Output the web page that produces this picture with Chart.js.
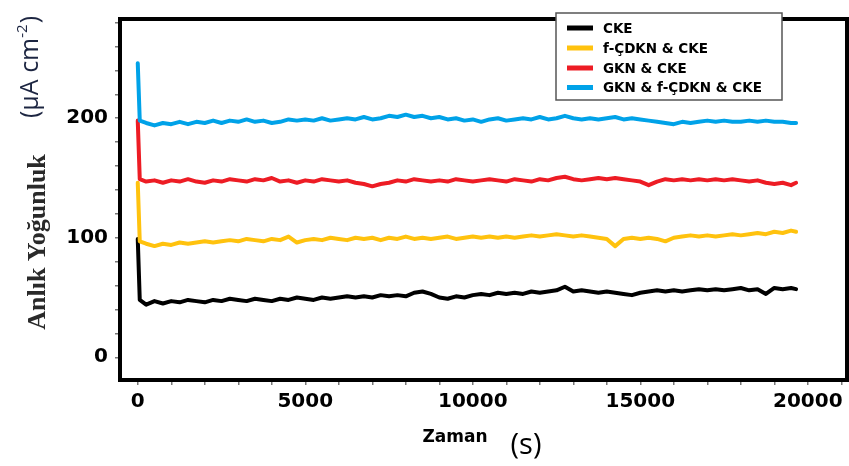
<!DOCTYPE html>
<html>
<head>
<meta charset="utf-8">
<script src="https://cdn.jsdelivr.net/npm/chart.js@4.4.0/dist/chart.umd.min.js"></script>
<style>
  body { margin: 0; background: #fff; }
  canvas { display: block; }
</style>
</head>
<body>
<canvas id="currentChart" width="849" height="466"></canvas>
<script>
// zaman (s)
const times = [0, 60, 250, 500, 750, 1000, 1250, 1500, 1750, 2000, 2250, 2500, 2750, 3000, 3250, 3500, 3750, 4000,
    4250, 4500, 4750, 5000, 5250, 5500, 5750, 6000, 6250, 6500, 6750, 7000, 7250, 7500, 7750, 8000, 8250, 8500,
    8750, 9000, 9250, 9500, 9750, 10000, 10250, 10500, 10750, 11000, 11250, 11500, 11750, 12000, 12250, 12500,
    12750, 13000, 13250, 13500, 13750, 14000, 14250, 14500, 14750, 15000, 15250, 15500, 15750, 16000, 16250,
    16500, 16750, 17000, 17250, 17500, 17750, 18000, 18250, 18500, 18750, 19000, 19250, 19500, 19650];

const seriesLabels = ['CKE', 'f-ÇDKN & CKE', 'GKN & CKE', 'GKN & f-ÇDKN & CKE'];

const ckeValues = [99, 48, 44, 47, 45, 47, 46, 48, 47, 46, 48, 47, 49, 48, 47, 49, 48, 47,
    49, 48, 50, 49, 48, 50, 49, 50, 51, 50, 51, 50, 52, 51, 52, 51, 54, 55,
    53, 50, 49, 51, 50, 52, 53, 52, 54, 53, 54, 53, 55, 54, 55, 56,
    59, 55, 56, 55, 54, 55, 54, 53, 52, 54, 55, 56, 55, 56, 55,
    56, 57, 56, 57, 56, 57, 58, 56, 57, 53, 58, 57, 58, 57];

const fcdknValues = [146, 97, 95, 93, 95, 94, 96, 95, 96, 97, 96, 97, 98, 97, 99, 98, 97, 99,
    98, 101, 96, 98, 99, 98, 100, 99, 98, 100, 99, 100, 98, 100, 99, 101, 99, 100,
    99, 100, 101, 99, 100, 101, 100, 101, 100, 101, 100, 101, 102, 101, 102, 103,
    102, 101, 102, 101, 100, 99, 93, 99, 100, 99, 100, 99, 97, 100, 101,
    102, 101, 102, 101, 102, 103, 102, 103, 104, 103, 105, 104, 106, 105];

const gknValues = [198, 149, 147, 148, 146, 148, 147, 149, 147, 146, 148, 147, 149, 148, 147, 149, 148, 150,
    147, 148, 146, 148, 147, 149, 148, 147, 148, 146, 145, 143, 145, 146, 148, 147, 149, 148,
    147, 148, 147, 149, 148, 147, 148, 149, 148, 147, 149, 148, 147, 149, 148, 150,
    151, 149, 148, 149, 150, 149, 150, 149, 148, 147, 144, 147, 149, 148, 149,
    148, 149, 148, 149, 148, 149, 148, 147, 148, 146, 145, 146, 144, 146];

const gknFcdknValues = [246, 198, 196, 194, 196, 195, 197, 195, 197, 196, 198, 196, 198, 197, 199, 197, 198, 196,
    197, 199, 198, 199, 198, 200, 198, 199, 200, 199, 201, 199, 200, 202, 201, 203, 201, 202,
    200, 201, 199, 200, 198, 199, 197, 199, 200, 198, 199, 200, 199, 201, 199, 200,
    202, 200, 199, 200, 199, 200, 201, 199, 200, 199, 198, 197, 196, 195, 197,
    196, 197, 198, 197, 198, 197, 197, 198, 197, 198, 197, 197, 196, 196];

const seriesColors = ['#000000', '#FFC20E', '#ED1C24', '#00A2E8'];

// eksen tik etiketleri (kucuk tikler her 1000 s / 20 birim)
const xTickLabels = [0, 5000, 10000, 15000, 20000];
const yTickLabels = [0, 100, 200];

function tickValues(from, to, step) {
    const out = [];
    for (let v = from; v <= to; v += step) out.push({ value: v });
    return out;
}

function toPoints(values) {
    return values.map((v, i) => ({ x: times[i], y: v }));
}

function makeDataset(label, values, color, order) {
    return {
        label: label,
        data: toPoints(values),
        borderColor: color,
        backgroundColor: color,
        borderWidth: 4,
        pointRadius: 0,
        tension: 0,
        borderJoinStyle: 'round',
        borderCapStyle: 'round',
        order: order
    };
}

const tickFont = { family: '"DejaVu Sans"', size: 20, weight: 'bold' };

// cerceve, eksen basliklari ve lejant
const decorPlugin = {
    id: 'decor',
    afterDraw(chart) {
        const ctx = chart.ctx;
        const a = chart.chartArea;
        ctx.save();
        ctx.strokeStyle = '#000';
        ctx.lineWidth = 4;
        ctx.strokeRect(a.left, a.top, a.right - a.left, a.bottom - a.top);

        // y basligi
        ctx.save();
        ctx.translate(45, 242);
        ctx.rotate(-Math.PI / 2);
        ctx.textAlign = 'center';
        ctx.textBaseline = 'alphabetic';
        ctx.fillStyle = '#2a2a2a';
        ctx.font = 'bold 26px "Liberation Serif"';
        ctx.fillText('Anlık Yoğunluk', 0, 0);
        ctx.restore();

        ctx.save();
        ctx.translate(38, 118);
        ctx.rotate(-Math.PI / 2);
        ctx.textAlign = 'left';
        ctx.textBaseline = 'alphabetic';
        ctx.fillStyle = '#1c2541';
        ctx.font = '25px "Open Sans"';
        let x = 0;
        ctx.fillText('(μA cm', x, 0);
        x += ctx.measureText('(μA cm').width;
        ctx.font = '15px "Open Sans"';
        ctx.fillText('-2', x, -11);
        x += ctx.measureText('-2').width + 1;
        ctx.font = '25px "Open Sans"';
        ctx.fillText(')', x, 0);
        ctx.restore();

        // x basligi
        ctx.fillStyle = '#000';
        ctx.textAlign = 'center';
        ctx.textBaseline = 'middle';
        ctx.font = 'bold 17px "DejaVu Sans"';
        ctx.fillText('Zaman', 455, 438);
        ctx.font = '29px "Open Sans"';
        ctx.fillText('(s)', 526, 446);

        // lejant
        const lx = 556, ly = 13, lw = 226, lh = 87;
        ctx.fillStyle = '#fff';
        ctx.fillRect(lx, ly, lw, lh);
        ctx.strokeStyle = '#555';
        ctx.lineWidth = 1.5;
        ctx.strokeRect(lx, ly, lw, lh);
        const rows = [28, 48, 68, 87.5];
        ctx.textAlign = 'left';
        ctx.font = 'bold 13.5px "DejaVu Sans"';
        seriesLabels.forEach((label, i) => {
            ctx.fillStyle = seriesColors[i];
            ctx.fillRect(567, rows[i] - 2.5, 26, 5);
            ctx.fillStyle = '#000';
            ctx.fillText(label, 603, rows[i] + 1);
        });
        ctx.restore();
    }
};

const ctx = document.getElementById('currentChart').getContext('2d');
new Chart(ctx, {
    type: 'line',
    data: {
        datasets: [
            makeDataset(seriesLabels[0], ckeValues, seriesColors[0], 4),
            makeDataset(seriesLabels[1], fcdknValues, seriesColors[1], 3),
            makeDataset(seriesLabels[2], gknValues, seriesColors[2], 2),
            makeDataset(seriesLabels[3], gknFcdknValues, seriesColors[3], 1)
        ]
    },
    options: {
        responsive: false,
        animation: false,
        layout: { padding: { top: 10, right: 2, left: 0, bottom: 0 } },
        plugins: {
            legend: { display: false },
            tooltip: { enabled: false }
        },
        scales: {
            x: {
                type: 'linear',
                min: -530,
                max: 21170,
                afterFit: s => { s.height = 86; },
                afterBuildTicks: s => { s.ticks = tickValues(0, 21000, 1000); },
                border: { display: false },
                grid: { display: true, drawOnChartArea: false, drawTicks: true, tickLength: 5, color: '#777', lineWidth: 1.5 },
                ticks: {
                    autoSkip: false,
                    maxRotation: 0,
                    minRotation: 0,
                    padding: 5,
                    color: '#000',
                    font: tickFont,
                    callback: v => xTickLabels.includes(v) ? String(v) : ''
                }
            },
            y: {
                type: 'linear',
                min: -19,
                max: 283,
                afterFit: s => { s.width = 120; },
                afterBuildTicks: s => { s.ticks = tickValues(0, 280, 20); },
                border: { display: false },
                grid: { display: true, drawOnChartArea: false, drawTicks: true, tickLength: 5, color: '#777', lineWidth: 1.5 },
                ticks: {
                    autoSkip: false,
                    padding: 7,
                    color: '#000',
                    font: tickFont,
                    callback: v => yTickLabels.includes(v) ? String(v) : ''
                }
            }
        }
    },
    plugins: [decorPlugin]
});
</script>
</body>
</html>
